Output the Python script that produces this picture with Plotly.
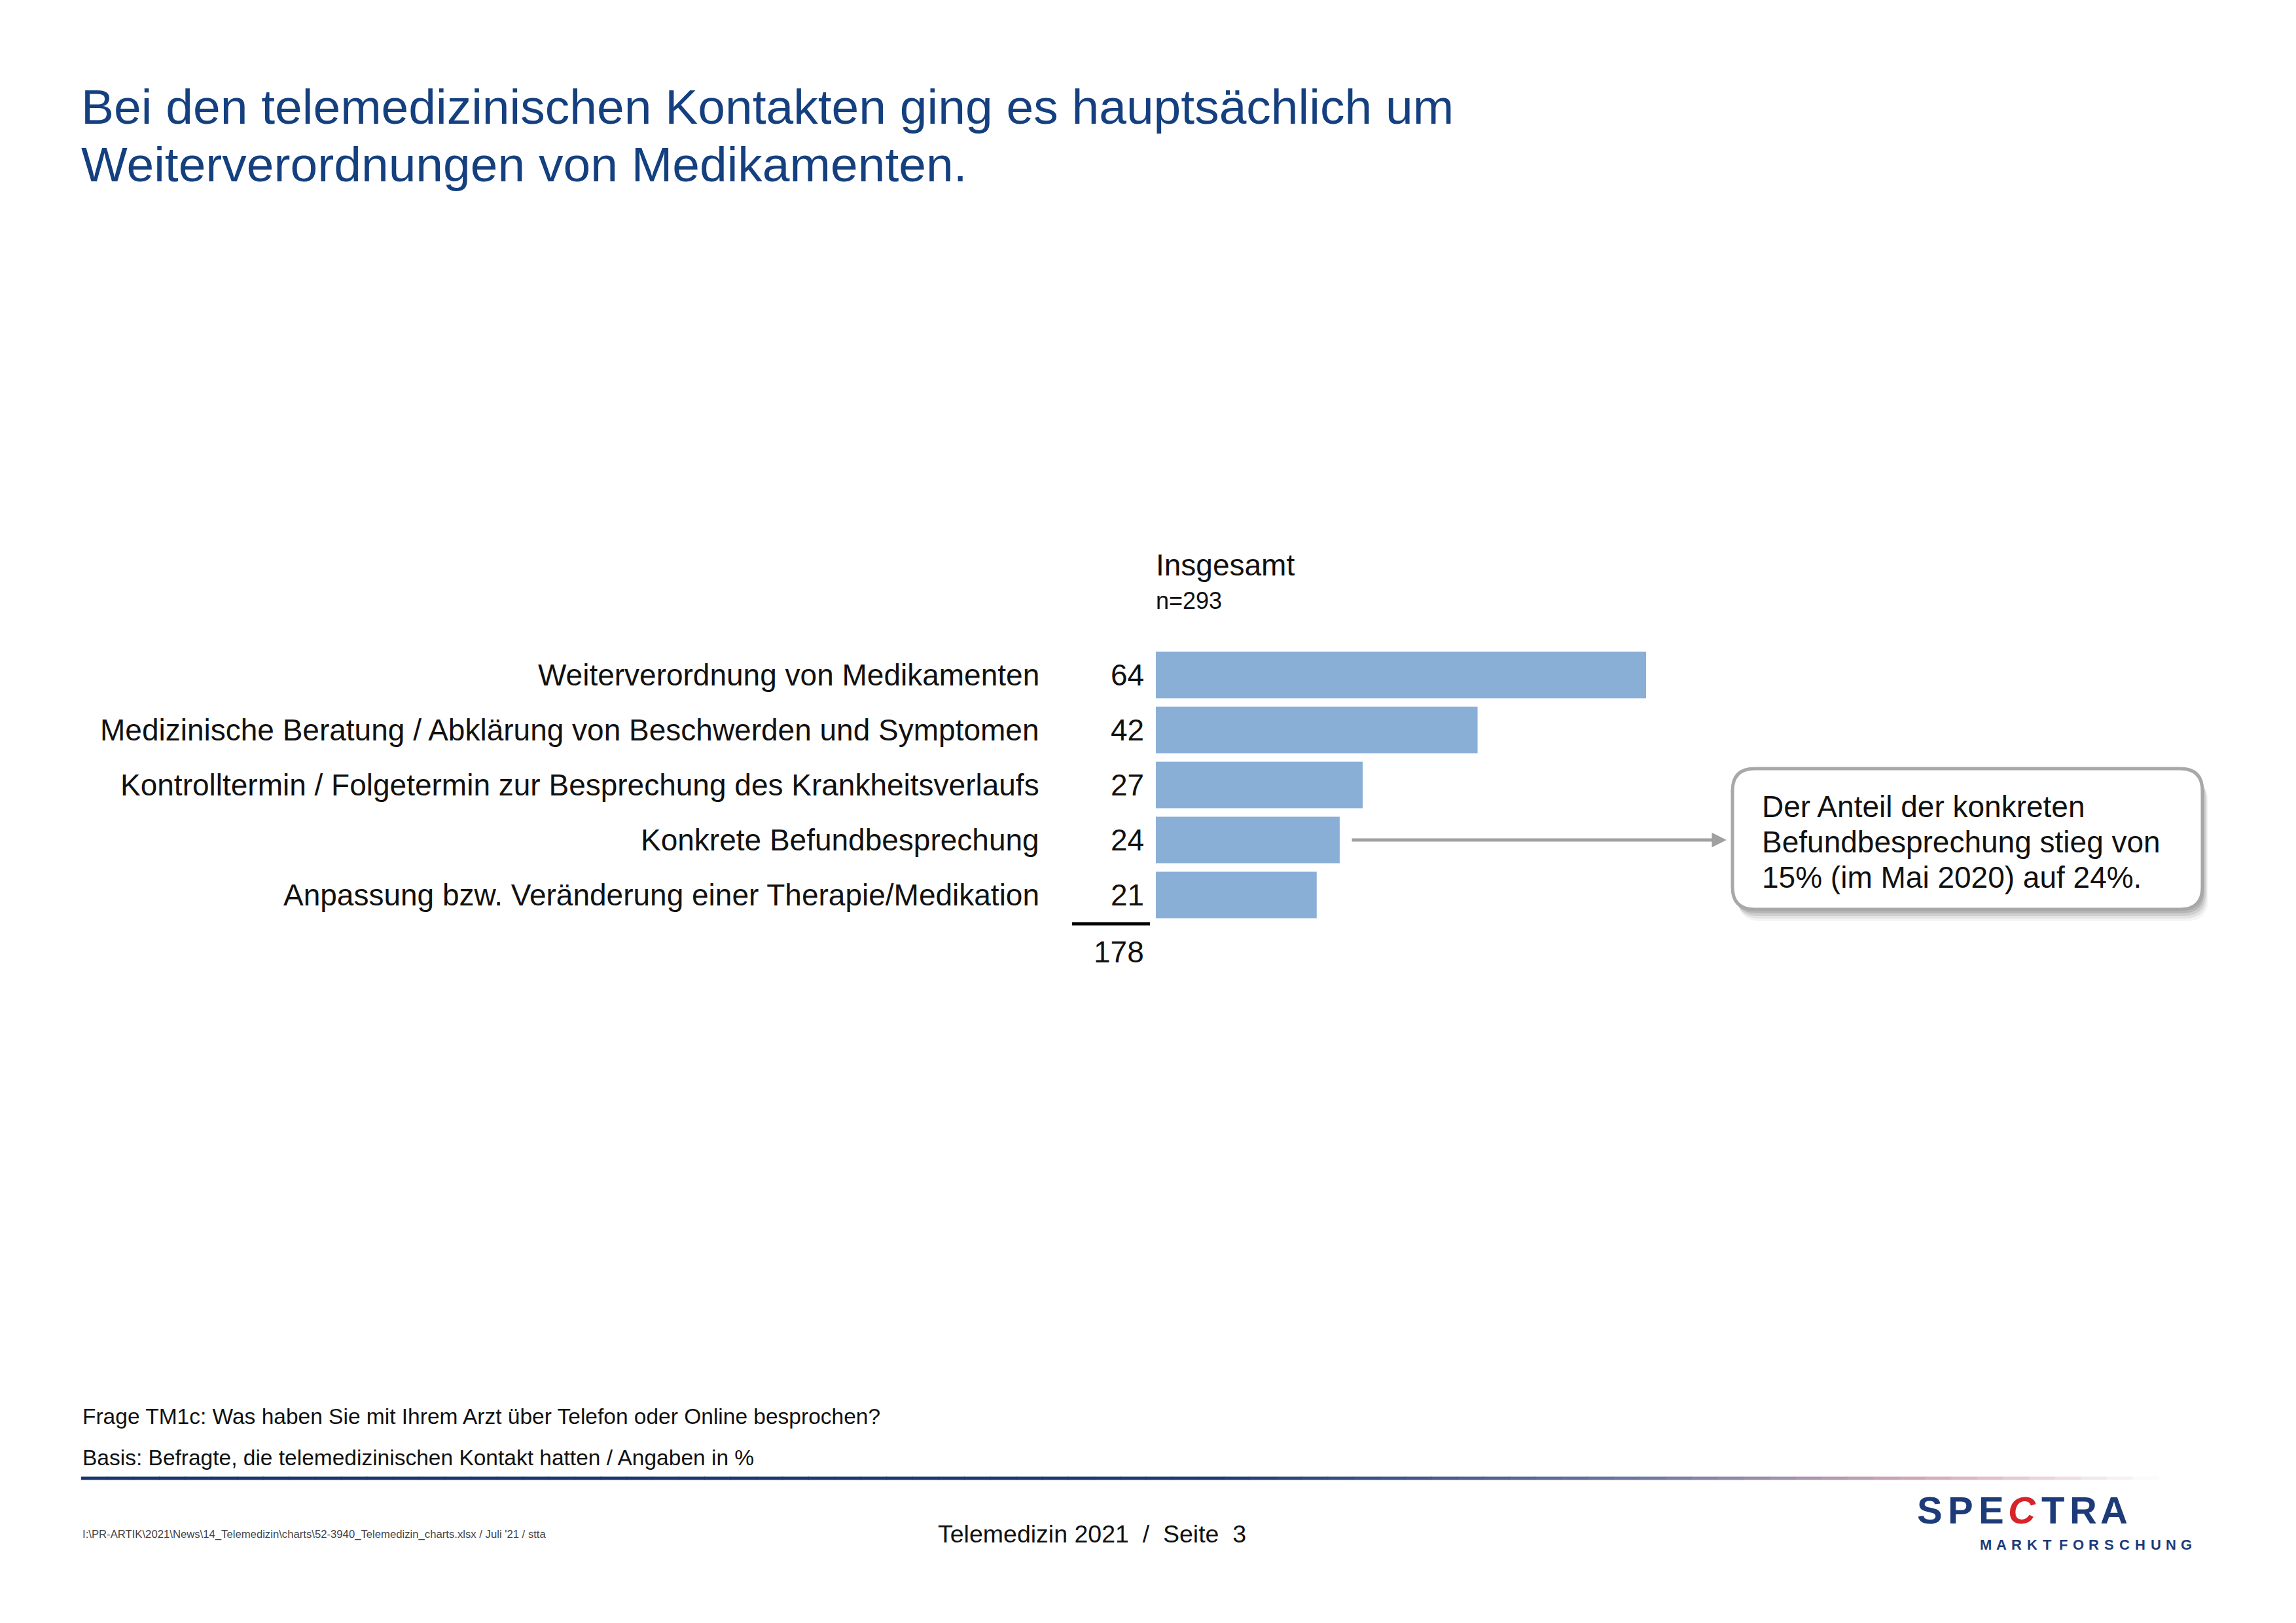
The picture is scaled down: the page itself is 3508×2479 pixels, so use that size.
import plotly.graph_objects as go

# ---------------- data ----------------
categories = [
    "Weiterverordnung von Medikamenten",
    "Medizinische Beratung / Abklärung von Beschwerden und Symptomen",
    "Kontrolltermin / Folgetermin zur Besprechung des Krankheitsverlaufs",
    "Konkrete Befundbesprechung",
    "Anpassung bzw. Veränderung einer Therapie/Medikation",
]
values = [64, 42, 27, 24, 21]
total_label = "178"
column_title = "Insgesamt"
column_n = "n=293"
title_lines = ["Bei den telemedizinischen Kontakten ging es hauptsächlich um",
               "Weiterverordnungen von Medikamenten."]
callout_lines = ["Der Anteil der konkreten",
                 "Befundbesprechung stieg von",
                 "15% (im Mai 2020) auf 24%."]
callout_category = "Konkrete Befundbesprechung"
question_text = "Frage TM1c: Was haben Sie mit Ihrem Arzt über Telefon oder Online besprochen?"
basis_text = "Basis: Befragte, die telemedizinischen Kontakt hatten / Angaben in %"
path_text = r"I:\PR-ARTIK\2021\News\14_Telemedizin\charts\52-3940_Telemedizin_charts.xlsx / Juli '21 / stta"
page_text = "Telemedizin 2021  /  Seite  3"

# ---------------- layout helpers ----------------
W, H = 3508, 2479
DX, DY = -10, -7
FONT = "Liberation Sans, Arial, sans-serif"
BAR_COLOR = "#8AAFD7"
TITLE_COLOR = "#15407f"
NAVY = "#1d3b78"
TXT = "#111111"


def px(x):
    return (x + DX) / W


def py(y):
    return 1 - (y + DY) / H


fig = go.Figure()
fig.add_trace(go.Bar(
    x=values, y=categories, orientation="h",
    marker=dict(color=BAR_COLOR, line=dict(width=0)),
    hoverinfo="skip", showlegend=False,
))

annotations = []
shapes = []


def note(x, y, text, size, anchor="left", yanchor="middle", color=TXT, family=FONT, yref="paper", align="left"):
    annotations.append(dict(x=x, xref="paper", y=y, yref=yref, text=text,
                            xanchor=anchor, yanchor=yanchor, align=align, showarrow=False,
                            font=dict(family=family, size=size, color=color)))


# category labels and values
for c, v in zip(categories, values):
    note(px(1592), c, c, 46, anchor="right", yref="y")
    note(px(1752), c, str(v), 46, anchor="right", yref="y")

# total
shapes.append(dict(type="line", xref="paper", yref="paper",
                   x0=px(1640), x1=px(1759), y0=py(1410), y1=py(1410),
                   line=dict(color="#000000", width=5)))
note(px(1752), py(1453), total_label, 46, anchor="right")

# column header
note(px(1766), py(862), column_title, 46)
note(px(1766), py(916), column_n, 36)

# title (two lines, 88 px apart)
for i, line in enumerate(title_lines):
    note(px(124), py(162 + i * 88), line, 75, color=TITLE_COLOR)


# callout box with shadow
def rounded(x0, y0, x1, y1, r):
    rx, ry = r / W, r / H
    X0, X1 = px(x0), px(x1)
    Y0, Y1 = py(y0), py(y1)
    return (f"M {X0+rx},{Y0} L {X1-rx},{Y0} Q {X1},{Y0} {X1},{Y0-ry} "
            f"L {X1},{Y1+ry} Q {X1},{Y1} {X1-rx},{Y1} "
            f"L {X0+rx},{Y1} Q {X0},{Y1} {X0},{Y1+ry} "
            f"L {X0},{Y0-ry} Q {X0},{Y0} {X0+rx},{Y0} Z")


for off, op in [(18, 0.08), (14, 0.14), (10, 0.22), (6, 0.3)]:
    shapes.append(dict(type="path", xref="paper", yref="paper",
                       path=rounded(2649 + off * 0.5, 1173 + off, 3367 + off * 0.5, 1388 + off, 34),
                       fillcolor="#808080", opacity=op, line=dict(width=0)))
shapes.append(dict(type="path", xref="paper", yref="paper",
                   path=rounded(2649, 1173, 3367, 1388, 34),
                   fillcolor="#ffffff", line=dict(color="#a8a8a8", width=5)))
for i, line in enumerate(callout_lines):
    note(px(2692), py(1231 + i * 54), line, 46)

# arrow from bar to callout
annotations.append(dict(x=px(2640), xref="paper", y=callout_category, yref="y",
                        ax=-(2640 - 2066), ay=0, axref="pixel", ayref="pixel",
                        text="", showarrow=True, arrowhead=2, arrowsize=0.9,
                        arrowwidth=5, arrowcolor="#a0a0a0"))

# footer texts
note(px(126), py(2162), question_text, 33.5)
note(px(126), py(2225), basis_text, 33.5)
note(px(126), py(2342), path_text, 16.7, color="#444444")
note(px(1433), py(2342), page_text, 37.5)


# gradient footer line
def lerp(a, b, t):
    return tuple(int(round(a[i] + (b[i] - a[i]) * t)) for i in range(3))


stops = [(126, (24, 55, 110)), (1850, (30, 60, 115)), (2500, (110, 120, 160)),
         (2950, (215, 170, 185)), (3300, (255, 255, 255))]
nseg = 80
for k in range(nseg):
    xa = 126 + (3300 - 126) * k / nseg
    xb = 126 + (3300 - 126) * (k + 1) / nseg
    xm = (xa + xb) / 2
    col = stops[-1][1]
    for j in range(len(stops) - 1):
        if stops[j][0] <= xm <= stops[j + 1][0]:
            t = (xm - stops[j][0]) / (stops[j + 1][0] - stops[j][0])
            col = lerp(stops[j][1], stops[j + 1][1], t)
            break
    shapes.append(dict(type="line", xref="paper", yref="paper",
                       x0=px(xa), x1=px(xb + 1), y0=py(2257), y1=py(2257),
                       line=dict(color=f"rgb{col}", width=5)))

# logo
logo_letters = ["S", "P", "E", "C", "T", "R", "A"]
for i, ch in enumerate(logo_letters):
    cx = 2950 + i * 47
    note(px(cx), py(2305), f"<b>{ch}</b>" if ch != "C" else "<b><i>C</i></b>", 58, anchor="center",
         color="#d8232a" if ch == "C" else NAVY,
         family="Liberation Sans Narrow, Liberation Sans, Arial")
for i, ch in enumerate("MARKTFORSCHUNG"):
    cx = 3036 + i * 23.6
    note(px(cx), py(2358), f"<b>{ch}</b>", 22, anchor="center", color=NAVY)

# axes geometry: bars start at x=1768 px, 64 -> 2517 px; rows 84 px apart starting 988 px
fig.update_layout(
    width=W, height=H,
    margin=dict(l=0, r=0, t=0, b=0),
    paper_bgcolor="#ffffff", plot_bgcolor="rgba(0,0,0,0)",
    xaxis=dict(domain=[px(1768), px(2517)], range=[0, 64], visible=False, fixedrange=True),
    yaxis=dict(domain=[py(1408), py(988)], range=[4.5, -0.5], visible=False,
               type="category", categoryorder="array", categoryarray=categories, fixedrange=True),
    bargap=0.155,
    annotations=annotations,
    shapes=shapes,
    showlegend=False,
)

fig.write_html("out.html")
